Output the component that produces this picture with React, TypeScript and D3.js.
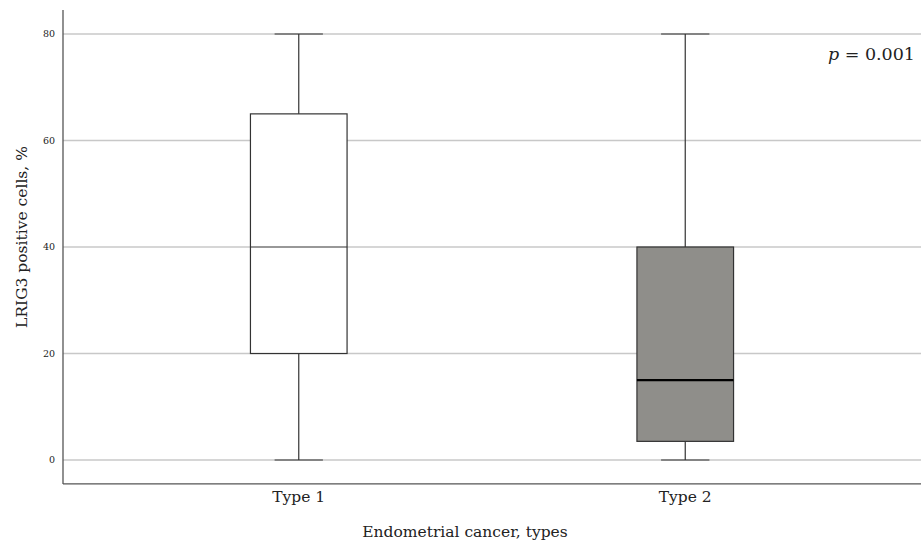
import React from "react";
import * as d3 from "d3";

const categories = ["Type 1", "Type 2"];
const minVals = [0, 0];
const q1Vals = [20, 3.5];
const medianVals = [40, 15];
const q3Vals = [65, 40];
const maxVals = [80, 80];
const yTicks = [0, 20, 40, 60, 80];

const W = 921;
const H = 542;
const left = 63;
const right = 921;
const serif = "'DejaVu Serif', 'Liberation Serif', serif";

export default function App() {
  const y = d3.scaleLinear().domain([0, 80]).range([460, 34]);
  const x = d3.scalePoint<string>().domain(categories).range([left, right]).padding(0.61);
  const step = x.step();
  const boxW = step * 0.25;
  const capW = boxW / 2;
  const bottom = y(-4.5);
  const top = y(84.5);

  return (
    <svg width={W} height={H} style={{ position: "absolute", left: 0, top: 0, background: "#fff" }}>
      {yTicks.map((t) => (
        <g key={t}>
          <line x1={left} x2={right} y1={y(t)} y2={y(t)} stroke="#c8c8c8" strokeWidth={1.3} />
          <text x={55} y={y(t)} dy="0.35em" textAnchor="end" fontFamily={serif} fontSize={9.5} fill="#222">
            {t}
          </text>
        </g>
      ))}
      <line x1={left} x2={left} y1={top} y2={bottom} stroke="#555" strokeWidth={1.3} />
      <line x1={left} x2={right} y1={bottom} y2={bottom} stroke="#555" strokeWidth={1.3} />
      {categories.map((c, i) => {
        const cx = x(c)!;
        const filled = i === 1;
        return (
          <g key={c}>
            <line x1={cx} x2={cx} y1={y(maxVals[i])} y2={y(q3Vals[i])} stroke="#333" strokeWidth={1.2} />
            <line x1={cx} x2={cx} y1={y(q1Vals[i])} y2={y(minVals[i])} stroke="#333" strokeWidth={1.2} />
            <line x1={cx - capW / 2} x2={cx + capW / 2} y1={y(maxVals[i])} y2={y(maxVals[i])} stroke="#333" strokeWidth={1.2} />
            <line x1={cx - capW / 2} x2={cx + capW / 2} y1={y(minVals[i])} y2={y(minVals[i])} stroke="#333" strokeWidth={1.2} />
            <rect
              x={cx - boxW / 2}
              y={y(q3Vals[i])}
              width={boxW}
              height={y(q1Vals[i]) - y(q3Vals[i])}
              fill={filled ? "#8f8e8a" : "#fff"}
              stroke="#333"
              strokeWidth={1.2}
            />
            <line
              x1={cx - boxW / 2}
              x2={cx + boxW / 2}
              y1={y(medianVals[i])}
              y2={y(medianVals[i])}
              stroke={filled ? "#000" : "#333"}
              strokeWidth={filled ? 2.2 : 1.2}
            />
            <text x={cx} y={502} textAnchor="middle" fontFamily={serif} fontSize={15.5} fill="#222">
              {c}
            </text>
          </g>
        );
      })}
      <text x={465} y={537} textAnchor="middle" fontFamily={serif} fontSize={15.5} fill="#222">
        Endometrial cancer, types
      </text>
      <text
        transform={`translate(27, 237) rotate(-90)`}
        textAnchor="middle"
        fontFamily={serif}
        fontSize={15.5}
        fill="#222"
      >
        LRIG3 positive cells, %
      </text>
      <text x={915} y={60} textAnchor="end" fontFamily={serif} fontSize={17.5} fill="#222">
        <tspan fontStyle="italic">p</tspan>
        <tspan> = 0.001</tspan>
      </text>
    </svg>
  );
}
